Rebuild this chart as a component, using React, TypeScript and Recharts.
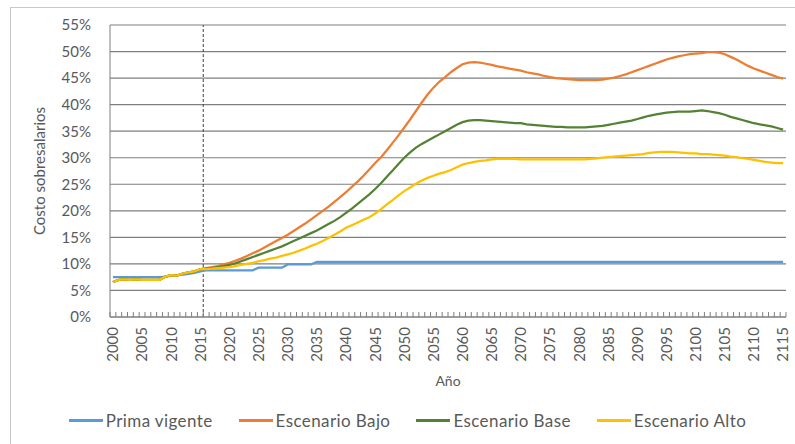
import { CartesianGrid, Line, LineChart, ReferenceLine, XAxis, YAxis } from "recharts";

const years = Array.from({ length: 116 }, (_, i) => 2000 + i);
const yTicks = [0, 5, 10, 15, 20, 25, 30, 35, 40, 45, 50, 55];

// % of salaries, one value per year 2000..2115
const primaVigente = [
  7.5, 7.5, 7.5, 7.5, 7.5, 7.5, 7.5, 7.5, 7.5, 7.6,
  7.8, 7.9, 8.0, 8.1, 8.3, 8.6, 8.8, 8.8, 8.8, 8.8,
  8.8, 8.8, 8.8, 8.8, 8.8, 9.3, 9.3, 9.3, 9.3, 9.3,
  9.9, 9.9, 9.9, 9.9, 9.9, 10.4, 10.4, 10.4, 10.4, 10.4,
  10.4, 10.4, 10.4, 10.4, 10.4, 10.4, 10.4, 10.4, 10.4, 10.4,
  10.4, 10.4, 10.4, 10.4, 10.4, 10.4, 10.4, 10.4, 10.4, 10.4,
  10.4, 10.4, 10.4, 10.4, 10.4, 10.4, 10.4, 10.4, 10.4, 10.4,
  10.4, 10.4, 10.4, 10.4, 10.4, 10.4, 10.4, 10.4, 10.4, 10.4,
  10.4, 10.4, 10.4, 10.4, 10.4, 10.4, 10.4, 10.4, 10.4, 10.4,
  10.4, 10.4, 10.4, 10.4, 10.4, 10.4, 10.4, 10.4, 10.4, 10.4,
  10.4, 10.4, 10.4, 10.4, 10.4, 10.4, 10.4, 10.4, 10.4, 10.4,
  10.4, 10.4, 10.4, 10.4, 10.4, 10.4,
];

const escenarioBajo = [
  6.6, 7.0, 7.1, 7.0, 7.1, 7.0, 7.0, 7.0, 7.0, 7.6,
  7.9, 7.8, 8.2, 8.4, 8.6, 9.0, 9.2, 9.4, 9.6, 9.9,
  10.2, 10.6, 11.0, 11.5, 12.0, 12.5, 13.1, 13.7, 14.3, 14.9,
  15.5, 16.2, 16.9, 17.6, 18.4, 19.2, 20.0, 20.8, 21.7, 22.6,
  23.5, 24.5, 25.5, 26.6, 27.8, 29.0, 30.1, 31.4, 32.8, 34.2,
  35.7, 37.2, 38.8, 40.4, 41.9, 43.2, 44.3, 45.2, 46.1, 46.9,
  47.6, 47.9, 48.0, 47.9, 47.7, 47.5, 47.2, 47.0, 46.8, 46.6,
  46.4, 46.1, 45.9, 45.7, 45.4, 45.2, 45.0, 44.9, 44.8, 44.7,
  44.6, 44.6, 44.6, 44.6, 44.7, 44.9, 45.1, 45.4, 45.7, 46.1,
  46.5, 46.9, 47.3, 47.7, 48.1, 48.5, 48.8, 49.1, 49.3, 49.5,
  49.6, 49.7, 49.9, 49.9, 49.8, 49.5, 49.0, 48.5, 47.9, 47.3,
  46.8, 46.4, 46.0, 45.6, 45.2, 44.9,
];

const escenarioBase = [
  6.6, 7.0, 7.1, 7.0, 7.1, 7.0, 7.0, 7.0, 7.0, 7.6,
  7.9, 7.8, 8.2, 8.4, 8.6, 9.0, 9.1, 9.2, 9.4, 9.6,
  9.8, 10.1, 10.5, 10.9, 11.3, 11.7, 12.1, 12.5, 12.9, 13.3,
  13.8, 14.3, 14.8, 15.3, 15.8, 16.3, 16.9, 17.5, 18.1, 18.8,
  19.6, 20.4, 21.3, 22.2, 23.1, 24.1, 25.2, 26.4, 27.6, 28.8,
  30.0, 31.0, 31.9, 32.6, 33.2, 33.8, 34.4, 35.0, 35.6, 36.2,
  36.7, 37.0, 37.1, 37.1, 37.0, 36.9, 36.8, 36.7, 36.6, 36.5,
  36.5, 36.3, 36.2, 36.1, 36.0, 35.9, 35.8, 35.8, 35.7, 35.7,
  35.7, 35.7, 35.8, 35.9, 36.0, 36.2, 36.4, 36.6, 36.8, 37.0,
  37.3, 37.6, 37.9, 38.1, 38.3, 38.5, 38.6, 38.7, 38.7, 38.7,
  38.8, 38.9, 38.8, 38.6, 38.4, 38.1, 37.7, 37.4, 37.1, 36.8,
  36.5, 36.3, 36.1, 35.9, 35.6, 35.3,
];

const escenarioAlto = [
  6.6, 7.0, 7.1, 7.0, 7.1, 7.0, 7.0, 7.0, 7.0, 7.6,
  7.9, 7.8, 8.2, 8.4, 8.6, 9.0, 9.0, 9.1, 9.2, 9.3,
  9.4, 9.6, 9.8, 10.0, 10.2, 10.5, 10.7, 11.0, 11.2, 11.5,
  11.8, 12.1, 12.5, 12.9, 13.4, 13.8, 14.3, 14.9, 15.5, 16.1,
  16.8, 17.3, 17.8, 18.3, 18.8, 19.5, 20.3, 21.2, 22.0, 22.9,
  23.7, 24.4, 25.1, 25.7, 26.2, 26.6, 27.0, 27.3, 27.7, 28.2,
  28.7, 29.0, 29.2, 29.4, 29.5, 29.7, 29.8, 29.8, 29.8, 29.8,
  29.7, 29.7, 29.7, 29.7, 29.7, 29.7, 29.7, 29.7, 29.7, 29.7,
  29.7, 29.7, 29.8, 29.9, 30.0, 30.1, 30.2, 30.3, 30.4, 30.5,
  30.6, 30.7, 30.9, 31.0, 31.1, 31.1, 31.1, 31.0, 30.9, 30.8,
  30.8, 30.7, 30.7, 30.6, 30.5, 30.4, 30.2, 30.1, 29.9, 29.8,
  29.6, 29.4, 29.2, 29.1, 29.0, 29.0,
];

const series = [
  { key: "prima", name: "Prima vigente", color: "#5B9BD5" },
  { key: "bajo", name: "Escenario Bajo", color: "#ED7D31" },
  { key: "base", name: "Escenario Base", color: "#548235" },
  { key: "alto", name: "Escenario Alto", color: "#FFC000" },
];

const data = years.map((year, i) => ({
  year,
  prima: primaVigente[i],
  bajo: escenarioBajo[i],
  base: escenarioBase[i],
  alto: escenarioAlto[i],
}));

const FONT = "Lato, 'Open Sans', sans-serif";
const AXIS_GRAY = "#7f7f7f";
const TEXT_GRAY = "#595959";

// category ticks sit between years, labels every 5 years
function YearTick(props: any) {
  const { x, y, payload, index } = props;
  const year = Number(payload.value);
  const half = 2.91;
  return (
    <g>
      <line x1={x - half} x2={x - half} y1={y} y2={y - 5} stroke={AXIS_GRAY} />
      {index === years.length - 1 && (
        <line x1={x + half} x2={x + half} y1={y} y2={y - 5} stroke={AXIS_GRAY} />
      )}
      {year % 5 === 0 && (
        <text
          transform={`translate(${x},${y + 10}) rotate(-90)`}
          textAnchor="end"
          dy="0.36em"
          fill={TEXT_GRAY}
          fontSize={15}
          fontFamily={FONT}
        >
          {year}
        </text>
      )}
    </g>
  );
}

export default function App() {
  return (
    <div
      style={{
        position: "absolute",
        left: 0,
        top: 0,
        width: 795,
        height: 444,
        overflow: "hidden",
        background: "#fff",
        fontFamily: FONT,
      }}
    >
      <div
        style={{
          position: "absolute",
          left: 10,
          top: 7,
          width: 820,
          height: 460,
          border: "1px solid #c8c8c8",
        }}
      />
      <LineChart
        width={795}
        height={444}
        data={data}
        margin={{ top: 25, right: 9, left: 20, bottom: 52 }}
      >
        <CartesianGrid vertical={false} stroke={AXIS_GRAY} strokeWidth={1.2} />
        <XAxis
          dataKey="year"
          type="category"
          scale="band"
          interval={0}
          height={75}
          tickSize={0}
          tickMargin={0}
          tickLine={false}
          axisLine={{ stroke: AXIS_GRAY }}
          tick={<YearTick />}
          label={{
            value: "Año",
            position: "insideBottom",
            offset: 6,
            fill: TEXT_GRAY,
            fontSize: 14,
            fontFamily: FONT,
          }}
        />
        <YAxis
          domain={[0, 55]}
          ticks={yTicks}
          width={90}
          tickLine={false}
          tickMargin={13}
          axisLine={{ stroke: AXIS_GRAY }}
          tickFormatter={(v: number) => `${v}%`}
          tick={{ fill: TEXT_GRAY, fontSize: 15, fontFamily: FONT }}
          label={{
            value: "Costo sobresalarios",
            angle: -90,
            position: "insideLeft",
            offset: 20,
            fill: TEXT_GRAY,
            fontSize: 15,
            fontFamily: FONT,
            style: { textAnchor: "middle" },
          }}
        />
        <ReferenceLine
          x={2015}
          position="end"
          stroke="#404040"
          strokeDasharray="3 2"
        />
        {series.map((s) => (
          <Line
            key={s.key}
            dataKey={s.key}
            name={s.name}
            stroke={s.color}
            strokeWidth={2.25}
            dot={false}
            type="linear"
            isAnimationActive={false}
          />
        ))}
      </LineChart>
      <div
        style={{
          position: "absolute",
          top: 410,
          left: 10,
          width: 795,
          display: "flex",
          justifyContent: "center",
          gap: 26,
          fontSize: 17,
          letterSpacing: 0.4,
          color: TEXT_GRAY,
        }}
      >
        {series.map((s) => (
          <div key={s.key} style={{ display: "flex", alignItems: "center" }}>
            <span
              style={{
                display: "inline-block",
                width: 34,
                height: 3,
                background: s.color,
                marginRight: 3,
              }}
            />
            <span>{s.name}</span>
          </div>
        ))}
      </div>
    </div>
  );
}
